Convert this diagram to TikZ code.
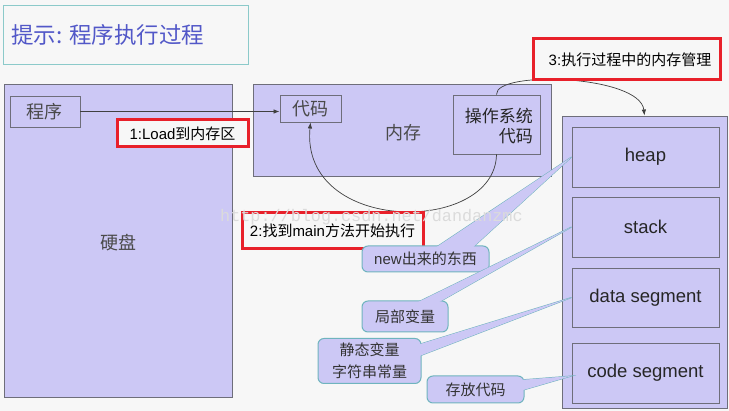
\documentclass[tikz,border=0pt]{standalone}
\usepackage{fontspec}
\setmainfont{Liberation Sans}
\newfontfamily\cjk{Noto Sans CJK SC}
\newfontfamily\wmfont{Liberation Mono}
\usetikzlibrary{arrows.meta}
\definecolor{bgc}{HTML}{F7F7F7}
\definecolor{lav}{HTML}{CCC8F5}
\definecolor{boxline}{HTML}{6E6E7A}
\definecolor{redline}{HTML}{E8202A}
\definecolor{calline}{HTML}{6FB4BE}
\definecolor{titleline}{HTML}{8CCACA}
\definecolor{titletext}{HTML}{5258C8}
\definecolor{arrc}{HTML}{404040}
\definecolor{graytext}{HTML}{4A4A4A}
\begin{document}
\begin{tikzpicture}[x=1pt,y=-1pt,
  box/.style={draw=boxline, fill=lav, line width=0.9pt, inner sep=0pt, anchor=center},
  cjkbig/.style={font=\fontsize{18}{20}\selectfont\cjk, text=graytext},
  seglabel/.style={font=\fontsize{18.5}{20}\selectfont, text=black!85},
  redbox/.style={draw=redline, fill=bgc, line width=3pt, inner sep=0pt, font=\fontsize{15}{18}\selectfont, text=black},
  callout/.style={draw=calline, fill=lav, line width=1pt, rounded corners=6pt, inner sep=0pt, font=\fontsize{15}{22}\selectfont, text=black!80, align=center},
  wedge/.style={fill=lav, draw=calline, line width=1pt, line join=miter},
  wedgefill/.style={fill=lav},
  arr/.style={draw=arrc, line width=0.7pt, -{Latex[length=6pt,width=4.5pt]}}
]
\useasboundingbox (0,0) rectangle (729,411);
\fill[bgc] (0,0) rectangle (729,411);

% title
\node[draw=titleline, fill=bgc, line width=1pt, minimum width=245, minimum height=59, inner sep=0pt] (title) at (125.5,35.5) {};
\node[anchor=west, inner sep=0pt, font=\fontsize{22.5}{24}\selectfont\cjk, text=titletext] (titletxt) at (11,35) {提示: 程序执行过程};

% hard disk
\node[box, minimum width=228, minimum height=313] (disk) at (118,240.5) {};
\node[cjkbig, inner sep=0pt] (disktxt) at (118,243) {硬盘};
\node[box, minimum width=70, minimum height=31, cjkbig] (prog) at (45,111.5) {程序};

% memory
\node[box, minimum width=298, minimum height=92] (mem) at (402,130) {};
\node[cjkbig, inner sep=0pt] (memtxt) at (403,133) {内存};
\node[box, minimum width=61, minimum height=27, cjkbig] (code) at (310.5,108.5) {代码};
\node[box, minimum width=87, minimum height=59] (os) at (496.5,124.5) {};
\node[anchor=east, inner sep=0pt, align=right, font=\fontsize{17}{20}\selectfont\cjk, text=black!85] (ostxt) at (533,126) {操作系统\\代码};

% right memory layout
\node[box, minimum width=165, minimum height=292] (right) at (644.5,262) {};
\node[box, minimum width=147, minimum height=60, seglabel] (heap) at (645.5,157) {heap};
\node[box, minimum width=147, minimum height=60, seglabel] (stack) at (645.5,227) {stack};
\node[box, minimum width=147, minimum height=59, seglabel] (data) at (645.5,297.5) {data segment};
\node[box, minimum width=147, minimum height=60, seglabel] (codeseg) at (645.5,373) {code segment};

% connectors
\draw[arr] (prog.east) -- (prog.east -| code.west);
\draw[arr] (os.south) .. controls (495,235) and (300,235) .. (code.south);
\draw[arr] (os.north) .. controls (495,70) and (640,75) .. (right.north);

% red labels
\node[redbox, minimum width=131, minimum height=27] (red1) at (182.5,133.5) {1:Load{\cjk 到内存区}};
\node[redbox, minimum width=181, minimum height=36] (red2) at (332.5,231) {2:{\cjk 找到}main{\cjk 方法开始执行}};
\node[redbox, minimum width=187, minimum height=41] (red3) at (626.5,59.5) {\hspace*{7pt}3:{\cjk 执行过程中的内存管理}};

% callouts
\coordinate (w1a) at (432,250); \coordinate (w1b) at (470,250);
\coordinate (w2a) at (412,305); \coordinate (w2b) at (434,305);
\coordinate (w3a) at (417,345); \coordinate (w3b) at (417,357);
\coordinate (w4a) at (520,380); \coordinate (w4b) at (520,391);
\coordinate (t4) at ([yshift=-3pt]codeseg.west);

\draw[wedge] (w1a) -- (heap.west) -- (w1b) -- cycle;
\node[callout, minimum width=127, minimum height=26] (c1) at (425.5,259) {new{\cjk 出来的东西}};
\fill[wedgefill] (w1a) -- (heap.west) -- (w1b) -- cycle;

\draw[wedge] (w2a) -- (stack.west) -- (w2b) -- cycle;
\node[callout, minimum width=86, minimum height=31, font=\fontsize{15}{22}\selectfont\cjk] (c2) at (405,316.5) {局部变量};
\fill[wedgefill] (w2a) -- (stack.west) -- (w2b) -- cycle;

\draw[wedge] (w3a) -- (data.west) -- (w3b) -- cycle;
\node[callout, minimum width=103, minimum height=45, font=\fontsize{15}{22}\selectfont\cjk] (c3) at (369.5,361) {静态变量\\字符串常量};
\fill[wedgefill] (w3a) -- (data.west) -- (w3b) -- cycle;

\draw[wedge] (w4a) -- (t4) -- (w4b) -- cycle;
\node[callout, minimum width=97, minimum height=27, font=\fontsize{15}{22}\selectfont\cjk] (c4) at (475.5,389.5) {存放代码};
\fill[wedgefill] (w4a) -- (t4) -- (w4b) -- cycle;

% watermark
\node[anchor=west, inner sep=0pt, font=\fontsize{16.8}{18}\selectfont\wmfont, text=black!14] (wm) at (220,217) {http://blog.csdn.net/dandanzmc};
\end{tikzpicture}
\end{document}
